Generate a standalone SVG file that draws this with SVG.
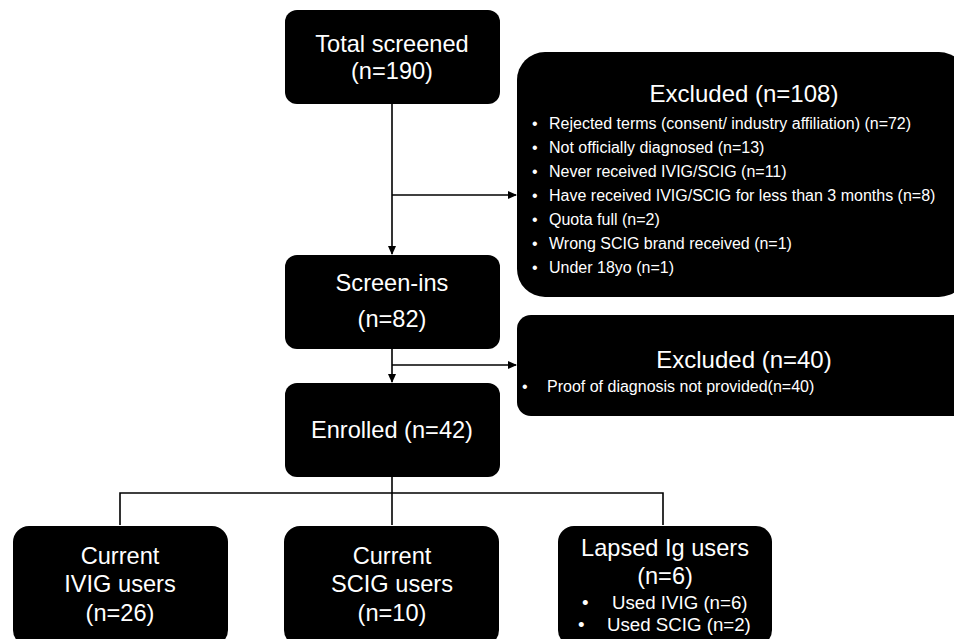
<svg xmlns="http://www.w3.org/2000/svg" width="954" height="639" viewBox="0 0 954 639">
<defs>
<style>
.box{fill:#000;}
.t{fill:#fff;font-family:"Liberation Sans",Arial,sans-serif;font-size:23.6px;text-anchor:middle;}
.h{fill:#fff;font-family:"Liberation Sans",Arial,sans-serif;font-size:24px;text-anchor:middle;}
.s{fill:#fff;font-family:"Liberation Sans",Arial,sans-serif;font-size:16px;}
.m{fill:#fff;font-family:"Liberation Sans",Arial,sans-serif;font-size:18.7px;}
.ln{stroke:#000;stroke-width:1.6;fill:none;}
</style>
<marker id="ah" markerWidth="10" markerHeight="10" refX="8" refY="5" orient="auto" markerUnits="userSpaceOnUse">
<path d="M0,1 L9,5 L0,9 z" fill="#000"/>
</marker>
</defs>
<rect width="954" height="639" fill="#fff"/>
<g id="connectors">
<path class="ln" d="M392,104 V254" marker-end="url(#ah)"/>
<path class="ln" d="M392,195 H516" marker-end="url(#ah)"/>
<path class="ln" d="M392,349 V382" marker-end="url(#ah)"/>
<path class="ln" d="M392,365 H516" marker-end="url(#ah)"/>
<path class="ln" d="M392,477 V525"/>
<path class="ln" d="M120,525 V493 H663 V525"/>
</g>
<g id="total">
<rect class="box" x="285" y="10" width="215" height="94" rx="12"/>
<text class="t" x="392" y="52">Total screened</text>
<text class="t" x="392" y="79">(n=190)</text>
</g>
<g id="excluded108">
<rect class="box" x="517" y="52" width="450" height="245" rx="28"/>
<text class="h" x="744" y="102">Excluded (n=108)</text>
<g class="s">
<text x="532" y="129">•</text><text x="549" y="129">Rejected terms (consent/ industry affiliation) (n=72)</text>
<text x="532" y="153">•</text><text x="549" y="153">Not officially diagnosed (n=13)</text>
<text x="532" y="177">•</text><text x="549" y="177">Never received IVIG/SCIG (n=11)</text>
<text x="532" y="201">•</text><text x="549" y="201">Have received IVIG/SCIG for less than 3 months (n=8)</text>
<text x="532" y="225">•</text><text x="549" y="225">Quota full (n=2)</text>
<text x="532" y="249">•</text><text x="549" y="249">Wrong SCIG brand received (n=1)</text>
<text x="532" y="273">•</text><text x="549" y="273">Under 18yo (n=1)</text>
</g>
</g>
<g id="screenins">
<rect class="box" x="285" y="255" width="215" height="94" rx="12"/>
<text class="t" x="392" y="291">Screen-ins</text>
<text class="t" x="392" y="327">(n=82)</text>
</g>
<g id="excluded40">
<rect class="box" x="517" y="315" width="450" height="101" rx="14"/>
<text class="h" x="744" y="368">Excluded (n=40)</text>
<text class="s" x="522" y="392">•</text><text class="s" x="547" y="392">Proof of diagnosis not provided(n=40)</text>
</g>
<g id="enrolled">
<rect class="box" x="285" y="383" width="215" height="94" rx="12"/>
<text class="t" x="392" y="438">Enrolled (n=42)</text>
</g>
<g id="ivig">
<rect class="box" x="13" y="526" width="215" height="120" rx="16"/>
<text class="t" x="120" y="564">Current</text>
<text class="t" x="120" y="592">IVIG users</text>
<text class="t" x="120" y="621">(n=26)</text>
</g>
<g id="scig">
<rect class="box" x="284" y="526" width="215" height="120" rx="16"/>
<text class="t" x="392" y="564">Current</text>
<text class="t" x="392" y="592">SCIG users</text>
<text class="t" x="392" y="621">(n=10)</text>
</g>
<g id="lapsed">
<rect class="box" x="558" y="526" width="214" height="120" rx="16"/>
<text class="t" x="665" y="556">Lapsed Ig users</text>
<text class="t" x="665" y="584">(n=6)</text>
<text class="m" x="582" y="609">•</text><text class="m" x="612" y="609">Used IVIG (n=6)</text>
<text class="m" x="578" y="631">•</text><text class="m" x="607" y="631">Used SCIG (n=2)</text>
</g>
</svg>
